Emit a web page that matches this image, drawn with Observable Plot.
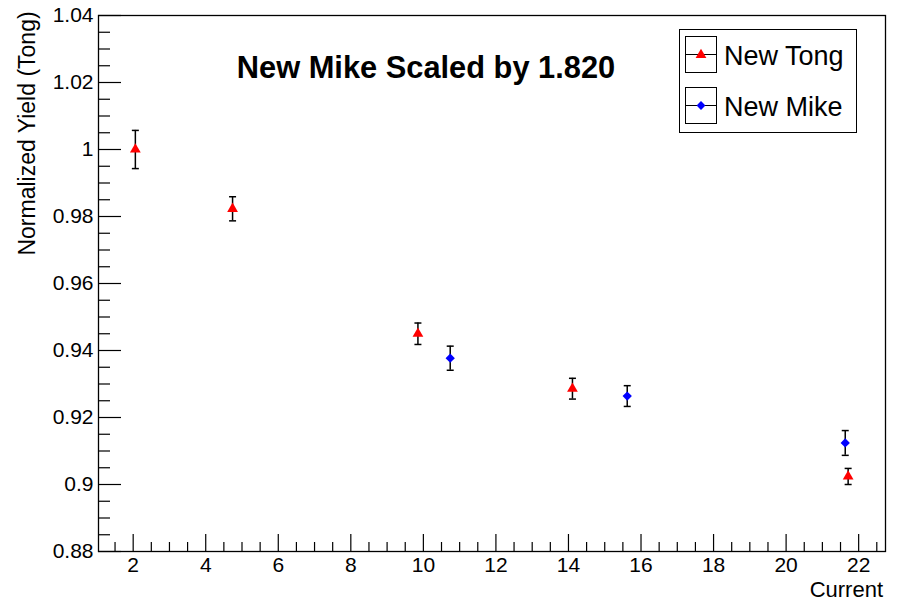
<!DOCTYPE html>
<html><head><meta charset="utf-8">
<script src="https://cdn.jsdelivr.net/npm/d3@7"></script>
<script src="https://cdn.jsdelivr.net/npm/@observablehq/plot@0.6"></script>
<style>
body{margin:0;background:#fff;font-family:"Liberation Sans",Arial,sans-serif;}
#wrap{position:relative;width:901px;height:602px;overflow:hidden;background:#fff}
#wrap svg{position:absolute;left:0;top:0}
</style></head><body><div id="wrap"></div>
<script>
// ---- data ----
const tongX   = [2.06, 4.74, 9.85, 14.11, 21.71];
const tongY   = [1.000, 0.9823, 0.9450, 0.9286, 0.9024];
const tongErr = [0.0057, 0.0036, 0.0032, 0.0031, 0.0024];
const mikeX   = [10.74, 15.62, 21.63];
const mikeY   = [0.9377, 0.9264, 0.9124];
const mikeErr = [0.0036, 0.0031, 0.0037];
const xMajor  = [2, 4, 6, 8, 10, 12, 14, 16, 18, 20, 22];
const yMajor  = [0.88, 0.90, 0.92, 0.94, 0.96, 0.98, 1.00, 1.02, 1.04];
const xDomain = [1.044, 22.74];
const yDomain = [0.88, 1.04];
const titleText = "New Mike Scaled by 1.820";
const xLabel = "Current";
const yLabel = "Normalized Yield (Tong)";
const seriesNames = ["New Tong", "New Mike"];

// ---- layout ----
const W = 901, H = 602, mL = 98, mR = 16, mT = 15, mB = 51;
const pw = W - mL - mR, ph = H - mT - mB;
const xMinor = d3.range(3, 46).map(i => i * 0.5).filter(v => !xMajor.includes(v));
const yMinor = d3.range(0, 33).map(i => +(0.88 + i * 0.005).toFixed(3)).filter(v => !yMajor.some(m => Math.abs(m - v) < 1e-9));

const tong = tongX.map((x, i) => ({x, y: tongY[i], e: tongErr[i]}));
const mike = mikeX.map((x, i) => ({x, y: mikeY[i], e: mikeErr[i]}));
const all = tong.concat(mike);

const cap = {draw(c, size) { const h = Math.sqrt(size / Math.PI); c.moveTo(-h, 0); c.lineTo(h, 0); }};
const font = '"Liberation Sans", Arial, sans-serif';

const chart = Plot.plot({
  width: W, height: H,
  marginLeft: mL, marginRight: mR, marginTop: mT, marginBottom: mB,
  style: {fontFamily: font, fontSize: "21px", color: "#000", background: "transparent"},
  x: {domain: xDomain},
  y: {domain: yDomain},
  marks: [
    Plot.tickY(yMajor, {y: d => d, insetRight: pw - 23, stroke: "#000", strokeWidth: 1.2}),
    Plot.tickY(yMinor, {y: d => d, insetRight: pw - 12, stroke: "#000", strokeWidth: 1.2}),
    Plot.tickX(xMajor, {x: d => d, insetTop: ph - 17, stroke: "#000", strokeWidth: 1.2}),
    Plot.tickX(xMinor, {x: d => d, insetTop: ph - 9, stroke: "#000", strokeWidth: 1.2}),
    Plot.axisY({ticks: yMajor, tickSize: 0, tickPadding: 5, tickFormat: d => String(+d.toFixed(2)), label: null, fontSize: 21}),
    Plot.axisX({ticks: xMajor, tickSize: 0, tickPadding: 6, tickFormat: d => String(d), label: null, fontSize: 21}),
    Plot.frame({stroke: "#000", strokeWidth: 1.3}),
    Plot.ruleX(all, {x: "x", y1: d => d.y - d.e, y2: d => d.y + d.e, stroke: "#000", strokeWidth: 1.5}),
    Plot.dot(all, {x: "x", y: d => d.y + d.e, symbol: cap, r: 3.5, stroke: "#000", strokeWidth: 1.5, fill: "none"}),
    Plot.dot(all, {x: "x", y: d => d.y - d.e, symbol: cap, r: 3.5, stroke: "#000", strokeWidth: 1.5, fill: "none"}),
    Plot.dot(tong, {x: "x", y: "y", symbol: "triangle", r: 4, fill: "#ff0000", stroke: "none"}),
    Plot.dot(mike, {x: "x", y: "y", symbol: "diamond2", r: 4.2, fill: "#0000ff", stroke: "none"})
  ]
});
const wrap = document.getElementById("wrap");
wrap.appendChild(chart);

// ---- overlay: title, axis titles, legend ----
const ov = d3.select(wrap).append("svg").attr("width", W).attr("height", H)
  .style("font-family", font);
ov.append("text").attr("x", 426).attr("y", 78).attr("text-anchor", "middle")
  .attr("font-weight", "bold").attr("font-size", 30.8).text(titleText);
ov.append("text").attr("transform", "translate(34.5,133.5) rotate(-90)").attr("text-anchor", "middle")
  .attr("font-size", 23).text(yLabel);
ov.append("text").attr("x", 883).attr("y", 596.5).attr("text-anchor", "end")
  .attr("font-size", 22).text(xLabel);

const lg = ov.append("g").attr("transform", "translate(679,29)");
lg.append("rect").attr("x", 0.5).attr("y", 0.5).attr("width", 177).attr("height", 103)
  .attr("fill", "#fff").attr("stroke", "#000").attr("stroke-width", 1);
[0, 1].forEach(i => {
  const y0 = i === 0 ? 7 : 58, cy = y0 + 18.5;
  lg.append("rect").attr("x", 6.5).attr("y", y0 + 0.5).attr("width", 31).attr("height", 36)
    .attr("fill", "none").attr("stroke", "#000").attr("stroke-width", 1);
  lg.append("line").attr("x1", 6.5).attr("x2", 37.5).attr("y1", cy).attr("y2", cy)
    .attr("stroke", "#000").attr("stroke-width", 1);
  if (i === 0) {
    lg.append("path").attr("d", d3.symbol(d3.symbolTriangle, 4 * 4 * Math.PI)())
      .attr("transform", `translate(22,${cy + 0.5})`).attr("fill", "#ff0000");
  } else {
    lg.append("path").attr("d", d3.symbol(d3.symbolDiamond2, 4 * 4 * Math.PI)())
      .attr("transform", `translate(22,${cy})`).attr("fill", "#0000ff");
  }
  lg.append("text").attr("x", 45).attr("y", cy + 10).attr("font-size", 27).text(seriesNames[i]);
});
</script></body></html>
